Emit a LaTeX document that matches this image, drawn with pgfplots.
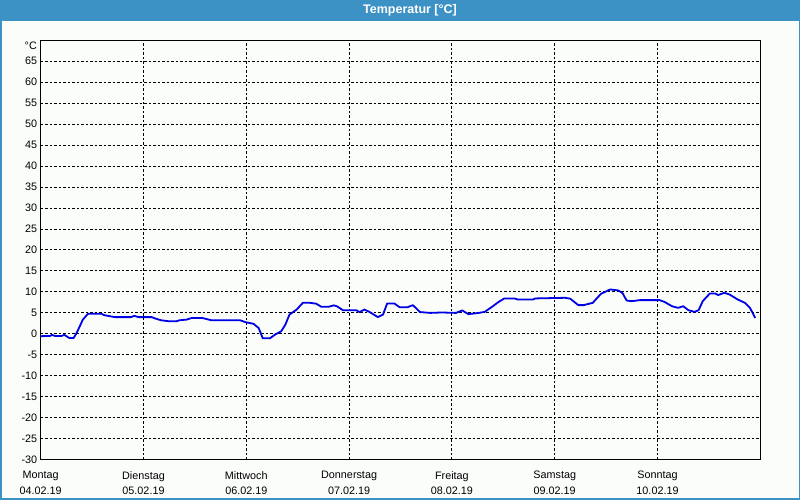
\documentclass[border=0pt]{standalone}
\usepackage{fontspec}
\setmainfont{Liberation Sans}
\usepackage{pgfplots}
\pgfplotsset{compat=1.18}
\definecolor{titlebar}{RGB}{60,146,196}
\definecolor{linie}{RGB}{0,0,228}
\definecolor{hinter}{RGB}{251,253,251}
\begin{document}
\begin{tikzpicture}
% Fenster mit Titelleiste
\fill[hinter] (0pt,0pt) rectangle (800pt,500pt);
\fill[titlebar] (0pt,479.3pt) rectangle (800pt,500pt);
\draw[titlebar, line width=1.5pt] (0.75pt,0.75pt) rectangle (799.25pt,499.25pt);
\node[text=white, font=\bfseries\fontsize{12.5}{14}\selectfont] at (410pt,490pt) {Temperatur [°C]};
\node[anchor=east, inner sep=0pt, font=\fontsize{10.8}{12}\selectfont] at (37pt,454.2pt) {°C};

\begin{axis}[
    at={(40.7pt,40.3pt)}, anchor=south west,
    scale only axis,
    width=719.6pt, height=419.4pt,
    xmin=0, xmax=7,
    ymin=-30, ymax=70,
    xtick={0,1,2,3,4,5,6},
    xticklabels={{Montag\\04.02.19},{Dienstag\\05.02.19},{Mittwoch\\06.02.19},
        {Donnerstag\\07.02.19},{Freitag\\08.02.19},{Samstag\\09.02.19},{Sonntag\\10.02.19}},
    ytick={-30,-25,-20,-15,-10,-5,0,5,10,15,20,25,30,35,40,45,50,55,60,65},
    yticklabels={-30,-25,-20,-15,-10,-5,0,5,10,15,20,25,30,35,40,45,50,55,60,65},
    grid=major,
    major grid style={black, line width=1pt, dash pattern=on 2.5pt off 2pt},
    major tick length=0pt,
    axis line style={black, line width=1pt},
    tick label style={font=\fontsize{10.8}{15.5}\selectfont},
    xticklabel style={align=center, yshift=-8pt},
]

% Temperaturverlauf 04.02.--10.02.19
\addplot[linie, line width=1.8pt, line join=round, mark=none] coordinates {
    (0,-0.55) (0.09,-0.5) (0.11,-0.25) (0.14,-0.5) (0.2,-0.5) (0.23,-0.25)
    (0.26,-0.7) (0.28,-1.0) (0.32,-1.0) (0.35,0.24) (0.38,1.8) (0.41,3.4)
    (0.46,4.8) (0.59,4.8) (0.62,4.45) (0.72,4.0) (0.88,4.0) (0.91,4.3)
    (0.95,4.0) (1.08,4.0) (1.11,3.7) (1.17,3.25) (1.25,3.0) (1.32,3.0)
    (1.35,3.25) (1.42,3.4) (1.47,3.8) (1.57,3.8) (1.66,3.25) (1.94,3.25)
    (1.99,2.8) (2.07,2.4) (2.12,1.4) (2.16,-1.05) (2.23,-1.05) (2.28,-0.17)
    (2.34,0.63) (2.38,2.2) (2.42,4.6) (2.49,5.8) (2.55,7.4) (2.62,7.4)
    (2.68,7.2) (2.73,6.45) (2.80,6.45) (2.85,6.8) (2.88,6.6) (2.94,5.65)
    (3.07,5.65) (3.10,5.2) (3.15,5.8) (3.20,5.2) (3.28,4.0) (3.33,4.6)
    (3.37,7.25) (3.44,7.25) (3.49,6.37) (3.57,6.37) (3.62,6.85) (3.69,5.2)
    (3.79,5.0) (3.90,5.1) (4.04,5.0) (4.10,5.6) (4.16,4.7) (4.26,5.0)
    (4.32,5.25) (4.39,6.45) (4.45,7.55) (4.51,8.45) (4.61,8.45) (4.64,8.2)
    (4.79,8.2) (4.81,8.45) (5.10,8.6) (5.15,8.4) (5.23,6.85) (5.28,6.85)
    (5.37,7.4) (5.45,9.55) (5.54,10.6) (5.62,10.35) (5.66,9.7) (5.70,7.95)
    (5.75,7.8) (5.83,8.05) (6.02,8.05) (6.07,7.6) (6.14,6.6) (6.20,6.2)
    (6.25,6.6) (6.30,5.65) (6.36,5.25) (6.40,5.65) (6.44,7.8) (6.51,9.65)
    (6.56,9.65) (6.59,9.25) (6.65,9.8) (6.70,9.4) (6.78,8.2) (6.85,7.4)
    (6.90,6.2) (6.95,3.8)
};

\end{axis}
\end{tikzpicture}
\end{document}
